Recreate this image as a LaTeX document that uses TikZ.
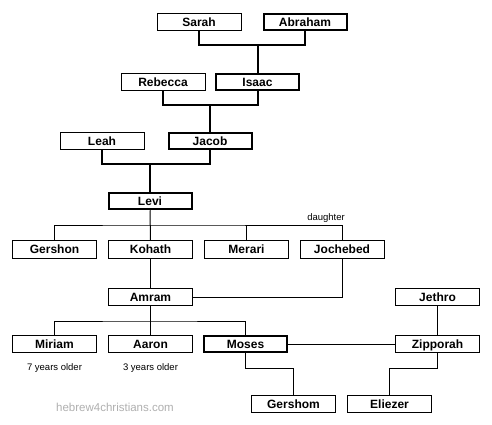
\documentclass[tikz,border=0pt]{standalone}
\usepackage{fontspec}
\setmainfont{Liberation Sans}
\usepackage{xcolor}
\definecolor{markgray}{RGB}{176,176,176}
\tikzset{
  person/.style={draw, line width=1pt, minimum width=84pt, minimum height=17.5pt,
    inner sep=0pt, text height=8.5pt, text depth=0pt,
    font=\fontsize{12}{13}\selectfont\bfseries},
  patriarch/.style={person, line width=2pt, minimum width=83pt, minimum height=16.5pt},
  bond/.style={line width=2pt},
  link/.style={line width=1pt},
  note/.style={inner sep=0pt, font=\fontsize{9.5}{10}\selectfont}
}

\begin{document}
\begin{tikzpicture}[x=1pt,y=-1pt]
\useasboundingbox[fill=white] (0,0) rectangle (492,425);

\node[person] (sarah) at (199,22) {Sarah};
\node[patriarch] (abraham) at (305,22) {Abraham};
\node[person] (rebecca) at (163,82) {Rebecca};
\node[patriarch] (isaac) at (257.5,82) {Isaac};
\node[person] (leah) at (102,141) {Leah};
\node[patriarch] (jacob) at (210,141) {Jacob};
\node[patriarch] (levi) at (150,201) {Levi};

\node[person] (gershon) at (54.5,249.5) {Gershon};
\node[person] (kohath) at (150.5,249.5) {Kohath};
\node[person] (merari) at (246.5,249.5) {Merari};
\node[person] (jochebed) at (342,249.5) {Jochebed};
\node[note] (dtr) at (326,218) {daughter};

\node[person] (amram) at (150.5,297) {Amram};
\node[person] (jethro) at (437.5,297) {Jethro};

\node[person] (miriam) at (54.5,344) {Miriam};
\node[person] (aaron) at (150.5,344) {Aaron};
\node[patriarch] (moses) at (245.5,344) {Moses};
\node[person] (zipporah) at (437.5,344) {Zipporah};
\node[note] (miriamage) at (54.5,368) {7 years older};
\node[note] (aaronage) at (150.5,368) {3 years older};

\node[person] (gershom) at (293.5,404) {Gershom};
\node[person] (eliezer) at (389.5,404) {Eliezer};

\node[text=markgray, font=\fontsize{11.5}{12}\selectfont] (site) at (115,407) {hebrew4christians.com};

% upper line
\coordinate (m1) at (257.5,45);
\coordinate (m2) at (210,105);
\coordinate (m3) at (150,164);
\draw[bond] (sarah.south) |- (m1) -| (abraham.south);
\draw[bond] (m1) -- (isaac.north);
\draw[bond] (rebecca.south) |- (m2) -| (isaac.south);
\draw[bond] (m2) -- (jacob.north);
\draw[bond] (leah.south) |- (m3) -| (jacob.south);
\draw[bond] (m3) -- (levi.north);

% sons of levi
\coordinate (m4) at (150,225);
\draw[link] (levi.south) -- (kohath.north);
\draw[link] (gershon.north) |- (m4) -| (jochebed.north);
\draw[link] (merari.north) -- (merari.north |- m4);
\draw[link] (kohath) -- (amram);
\draw[link] (jochebed.south) |- (amram.east);

% children of amram
\coordinate (m5) at (150,321);
\draw[link] (amram.south) -- (aaron.north);
\draw[link] (miriam.north) |- (m5) -| (moses.north);
\draw[link] (moses) -- (zipporah);
\draw[link] (jethro) -- (zipporah);
\coordinate (m6) at (293.5,368);
\coordinate (m7) at (389.5,368);
\draw[link] (moses.south) |- (m6) -- (gershom.north);
\draw[link] (zipporah.south) |- (m7) -- (eliezer.north);
\end{tikzpicture}
\end{document}
